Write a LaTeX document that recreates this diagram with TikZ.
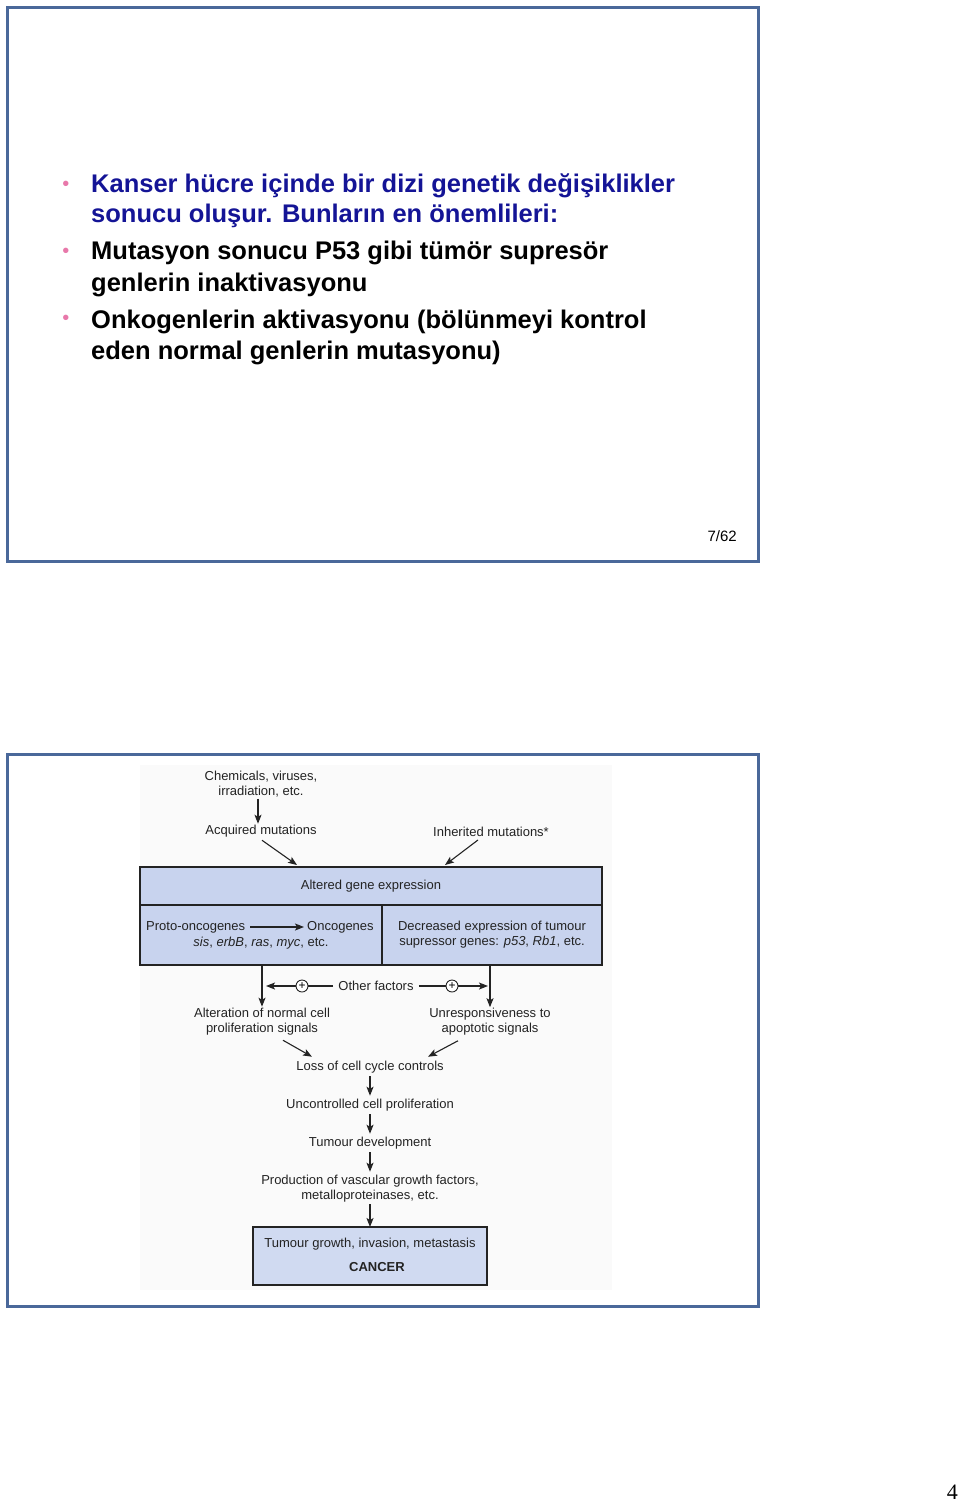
\documentclass[tikz,border=0pt]{standalone}
\usepackage{fontspec}
\setmainfont{Liberation Sans}
\newfontfamily\pagefont{Liberation Serif}
\usetikzlibrary{positioning,arrows.meta}
\definecolor{framecol}{RGB}{74,104,154}
\definecolor{navytext}{RGB}{20,20,150}
\definecolor{bulletpink}{RGB}{232,120,170}
\definecolor{boxblue}{RGB}{200,211,238}
\definecolor{inktext}{RGB}{35,35,35}

\begin{document}
\begin{tikzpicture}[x=1pt,y=-1pt,
		slide/.style={draw=framecol, line width=3pt},
		bul/.style={text=bulletpink, inner sep=0pt, font=\fontsize{20}{20}\selectfont},
		item/.style={anchor=base west, inner sep=0pt, font=\fontsize{25.5}{30}\selectfont\bfseries},
		lbl/.style={inner sep=1pt, align=center, text=inktext, font=\fontsize{13}{15}\selectfont},
		arr/.style={-{Stealth[length=9pt,width=7pt,inset=2pt]}, line width=1.1pt, draw=inktext},
		wire/.style={line width=1.1pt, draw=inktext},
		cell/.style={draw=inktext, line width=1.3pt, fill=boxblue, inner sep=0pt, outer sep=0pt,
			align=center, text=inktext, font=\fontsize{13}{15}\selectfont},
		plus/.style={circle, draw=inktext, line width=0.9pt, minimum size=12pt, inner sep=0pt,
			fill=white, font=\fontsize{12}{12}\selectfont}]
	\useasboundingbox (0,0) rectangle (960,1503);
	% slide frames
	\draw[slide] (7,8) rectangle (758,561);
	\fill[black!2] (140,765) rectangle (612,1290);
	\draw[slide] (7,754) rectangle (758,1306);
	
	% bullet text
	\node[bul] (b1) at (66,186) {•};
	\node[bul] (b2) at (66,253) {•};
	\node[bul] (b3) at (66,320) {•};
	\node[item, text=navytext] (k1) at (91,193) {Kanser hücre içinde bir dizi genetik değişiklikler};
	\node[item, text=navytext] (k2) at (91,223) {sonucu oluşur. Bunların en önemlileri:};
	\node[item] (m1) at (91,260) {Mutasyon sonucu P53 gibi tümör supresör};
	\node[item] (m2) at (91,291) {genlerin inaktivasyonu};
	\node[item] (o1) at (91,328) {Onkogenlerin aktivasyonu (bölünmeyi kontrol};
	\node[item] (o2) at (91,359) {eden normal genlerin mutasyonu)};
	\node[anchor=base east, inner sep=0pt, font=\fontsize{15}{15}\selectfont] (pg) at (737,541) {7/62};
	\node[anchor=base east, inner sep=0pt, font=\pagefont\fontsize{22}{22}\selectfont] (pnum) at (958,1499) {4};
	
	% diagram
	\node[lbl] (chem) at (261,784.5) {Chemicals, viruses,\\irradiation, etc.};
	\node[lbl] (acq) at (261,831) {Acquired mutations};
	\node[lbl] (inh) at (491,832) {Inherited mutations*};
	\node[cell, minimum width=462pt, minimum height=38pt, anchor=north west] (alt) at (140,867)
		{Altered gene expression};
	\node[cell, minimum width=242pt, minimum height=60pt, anchor=north west] (onc) at (alt.south west) {};
	\node[cell, minimum width=220pt, minimum height=60pt, anchor=north east] (sup) at (alt.south east)
		{Decreased expression of tumour\\supressor genes: \textit{p53}, \textit{Rb1}, etc.};
	\node[lbl, anchor=west] (proto) at (145,927) {Proto-oncogenes};
	\node[lbl, anchor=west] (oncg) at (306,927) {Oncogenes};
	\node[lbl] (genes) at (261,943) {\textit{sis}, \textit{erbB}, \textit{ras}, \textit{myc}, etc.};
	
	\draw[arr] ([xshift=-3pt]chem.south) -- ([xshift=-3pt]acq.north);
	\draw[arr] ([xshift=1pt,yshift=-2pt]acq.south) -- ([xshift=-74pt,yshift=2pt]alt.north);
	\draw[arr] ([xshift=-13pt,yshift=-2pt]inh.south) -- ([xshift=74pt,yshift=2pt]alt.north);
	\draw[arr, shorten <=4pt, shorten >=2pt] (proto) -- (oncg);
	
	\node[lbl] (altn) at (262,1021.5) {Alteration of normal cell\\proliferation signals};
	\node[lbl] (unr) at (490,1022) {Unresponsiveness to\\apoptotic signals};
	\node[lbl] (oth) at (376,986) {Other factors};
	\node[plus] (pl) at (302,986) {+};
	\node[plus] (pr) at (452,986) {+};
	\draw[arr] (altn.north |- onc.south) -- (altn.north);
	\draw[arr] (unr.north |- sup.south) -- (unr.north);
	\draw[wire, shorten <=4pt] (oth.west) -- (pl);
	\draw[arr, shorten >=4pt] (pl) -- (pl -| altn);
	\draw[wire, shorten <=4pt] (oth.east) -- (pr);
	\draw[arr, shorten >=2pt] (pr) -- (pr -| unr);
	
	\node[lbl] (loss) at (370,1067) {Loss of cell cycle controls};
	\node[lbl] (unc) at (370,1105) {Uncontrolled cell proliferation};
	\node[lbl] (dev) at (370,1143) {Tumour development};
	\node[lbl] (prod) at (370,1188.5) {Production of vascular growth factors,\\metalloproteinases, etc.};
	\node[cell, minimum width=234pt, minimum height=58pt, anchor=north west, fill=boxblue!85] (can) at (253,1227) {};
	\node[lbl] (tgr) at (370,1244) {Tumour growth, invasion, metastasis};
	\node[lbl, font=\fontsize{13}{15}\selectfont\bfseries] (cnc) at (377,1267) {CANCER};
	
	\draw[arr] ([xshift=21pt,yshift=-4pt]altn.south) -- ([xshift=-58pt,yshift=3pt]loss.north);
	\draw[arr] ([xshift=-32pt,yshift=-4pt]unr.south) -- ([xshift=58pt,yshift=3pt]loss.north);
	\draw[arr, shorten <=2pt, shorten >=2pt] (loss) -- (unc);
	\draw[arr, shorten <=2pt, shorten >=2pt] (unc) -- (dev);
	\draw[arr, shorten <=2pt, shorten >=2pt] (dev) -- (prod);
	\draw[arr, shorten <=1pt] (prod) -- (can);
	
\end{tikzpicture}
\end{document}
